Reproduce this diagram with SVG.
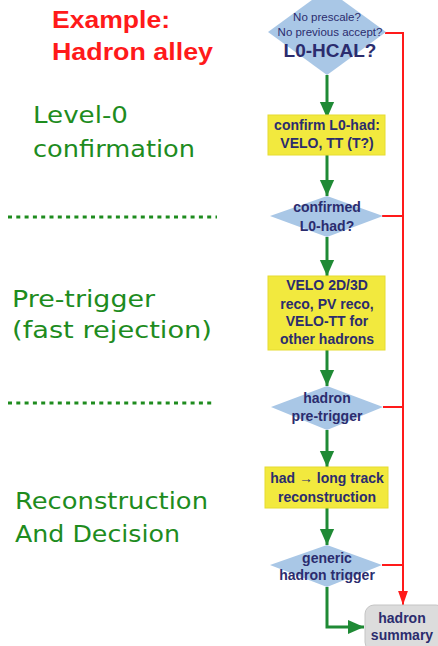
<svg xmlns="http://www.w3.org/2000/svg" width="438" height="646" viewBox="0 0 438 646">
<style>
.dia{fill:#a9c7e6;stroke:none}
.box{fill:#f2e93e;stroke:#e6dc30;stroke-width:1}
.nt{font-family:"Liberation Sans",Arial,sans-serif;font-weight:bold;font-size:14px;fill:#2b2c6e;text-anchor:middle}
.sm{font-weight:normal;font-size:11.5px}
.lbl{font-family:"DejaVu Sans","Noto Sans",sans-serif;font-size:23px;fill:#1e8c1e}
.red{font-family:"Liberation Sans",Arial,sans-serif;font-weight:bold;font-size:23px;fill:#ff1a1a}
.g{fill:none;stroke:#1f8a35;stroke-width:3}
.r{fill:none;stroke:#ff1a1a;stroke-width:2}
.dots{stroke:#1e8c1e;stroke-width:3;stroke-dasharray:4 4.3}
</style>
<defs>
<marker id="ga" markerUnits="userSpaceOnUse" markerWidth="16" markerHeight="20" refX="18" refY="8" orient="auto" viewBox="0 0 18 16">
<path d="M0,0 L18,8 L0,16 z" fill="#1f8a35"/>
</marker>
<marker id="ra" markerUnits="userSpaceOnUse" markerWidth="14" markerHeight="20" refX="20" refY="7" orient="auto" viewBox="0 0 20 14">
<path d="M0,0 L20,7 L0,14 z" fill="#ff1a1a"/>
</marker>
</defs>
<rect width="438" height="646" fill="#ffffff"/>

<g id="labels">
<text class="red" x="52" y="28" textLength="118" lengthAdjust="spacingAndGlyphs">Example:</text>
<text class="red" x="52" y="60" textLength="161" lengthAdjust="spacingAndGlyphs">Hadron alley</text>
<text class="lbl" x="33" y="123" textLength="95" lengthAdjust="spacingAndGlyphs">Level-0</text>
<text class="lbl" x="33" y="157" textLength="162" lengthAdjust="spacingAndGlyphs">confirmation</text>
<text class="lbl" x="12" y="307" textLength="143" lengthAdjust="spacingAndGlyphs">Pre-trigger</text>
<text class="lbl" x="12" y="338" textLength="200" lengthAdjust="spacingAndGlyphs">(fast rejection)</text>
<text class="lbl" x="15" y="509" textLength="193" lengthAdjust="spacingAndGlyphs">Reconstruction</text>
<text class="lbl" x="15" y="542" textLength="165" lengthAdjust="spacingAndGlyphs">And Decision</text>
<line class="dots" x1="8" y1="217" x2="217" y2="217"/>
<line class="dots" x1="8" y1="403" x2="214" y2="403"/>
</g>

<g id="connectors">
<line class="g" x1="327" y1="75" x2="327" y2="118" marker-end="url(#ga)"/>
<line class="g" x1="327" y1="155" x2="327" y2="196" marker-end="url(#ga)"/>
<line class="g" x1="327" y1="237" x2="327" y2="276" marker-end="url(#ga)"/>
<line class="g" x1="327" y1="350" x2="327" y2="386" marker-end="url(#ga)"/>
<line class="g" x1="327" y1="430" x2="327" y2="467" marker-end="url(#ga)"/>
<line class="g" x1="327" y1="508" x2="327" y2="545" marker-end="url(#ga)"/>
<polyline class="g" points="327,587 327,627 364,627" marker-end="url(#ga)"/>
<polyline class="r" points="385,33 403,33 403,605" marker-end="url(#ra)"/>
<line class="r" x1="382" y1="216" x2="403" y2="216"/>
<line class="r" x1="383" y1="407" x2="403" y2="407"/>
<line class="r" x1="382" y1="565" x2="403" y2="565"/>
</g>

<g id="n-l0hcal">
<polygon class="dia" points="327,-11 386,32 327,75 268,32"/>
<text class="nt sm" x="327" y="21">No prescale?</text>
<text class="nt sm" x="330" y="36">No previous accept?</text>
<text class="nt" style="font-size:19px" x="330" y="57">L0-HCAL?</text>
</g>

<g id="n-confirm">
<rect class="box" x="268" y="115" width="117" height="40"/>
<text class="nt" x="327" y="130">confirm L0-had:</text>
<text class="nt" x="327" y="148">VELO, TT (T?)</text>
</g>

<g id="n-confirmed">
<polygon class="dia" points="327,196 383,216 327,237 270,216"/>
<text class="nt" x="327" y="212">confirmed</text>
<text class="nt" x="327" y="231">L0-had?</text>
</g>

<g id="n-velo">
<rect class="box" x="268" y="276" width="117" height="74"/>
<text class="nt" x="327" y="290">VELO 2D/3D</text>
<text class="nt" x="327" y="309">reco, PV reco,</text>
<text class="nt" x="327" y="326">VELO-TT for</text>
<text class="nt" x="327" y="344">other hadrons</text>
</g>

<g id="n-pretrigger">
<polygon class="dia" points="327,386 383,407 327,430 271,407"/>
<text class="nt" x="327" y="403">hadron</text>
<text class="nt" x="327" y="421">pre-trigger</text>
</g>

<g id="n-longtrack">
<rect class="box" x="265" y="467" width="123" height="41"/>
<text class="nt" x="327" y="483">had → long track</text>
<text class="nt" x="327" y="502">reconstruction</text>
</g>

<g id="n-generic">
<polygon class="dia" points="327,545 382,565 327,587 270,565"/>
<text class="nt" x="327" y="563">generic</text>
<text class="nt" x="327" y="580">hadron trigger</text>
</g>

<g id="n-summary">
<rect x="365" y="605" width="80" height="46" rx="9" fill="#dcdcdc" stroke="#c4c4c4" stroke-width="1"/>
<text class="nt" x="402" y="623">hadron</text>
<text class="nt" x="402" y="640">summary</text>
</g>
</svg>
